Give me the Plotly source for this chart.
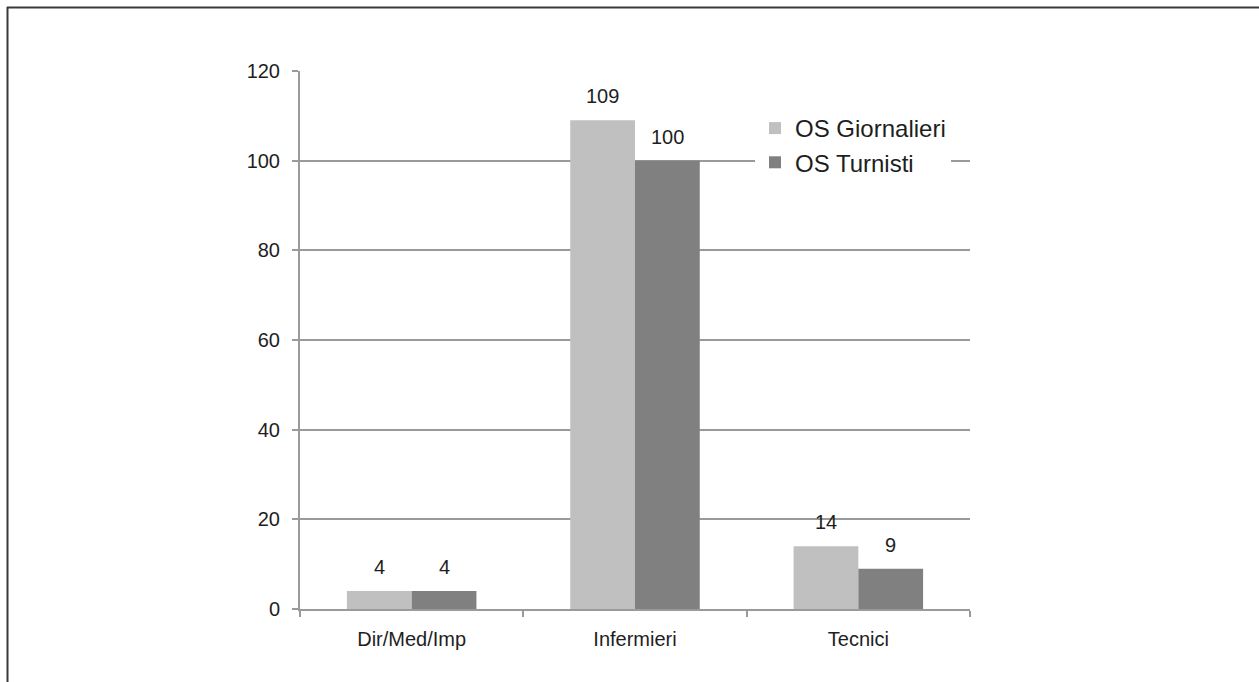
import plotly.graph_objects as go

categories = ["Dir/Med/Imp", "Infermieri", "Tecnici"]
giornalieri = [4, 109, 14]
turnisti = [4, 100, 9]
series_names = ["OS Giornalieri", "OS Turnisti"]
y_ticks = [0, 20, 40, 60, 80, 100, 120]

W, H = 1259, 682
ML, MR, MT, MB = 300, 289, 71, 73
FONT = "Liberation Sans, Arial, sans-serif"
TXT = "#1e1e1e"
GRID = "#9a9a9a"

fig = go.Figure()
fig.add_trace(go.Bar(x=categories, y=giornalieri, name=series_names[0],
                     marker=dict(color="#c0c0c0", line=dict(width=0))))
fig.add_trace(go.Bar(x=categories, y=turnisti, name=series_names[1],
                     marker=dict(color="#808080", line=dict(width=0))))

# value labels above each bar
pw = W - ML - MR
cat_w = pw / len(categories)
bar_w = cat_w * (1 - 0.42) / 2
for vals, sign in ((giornalieri, -1), (turnisti, 1)):
    for c, v in zip(categories, vals):
        fig.add_annotation(x=c, y=v, xref="x", yref="y", text=str(v),
                           showarrow=False, xshift=sign * bar_w / 2, yshift=24,
                           font=dict(family=FONT, size=20, color=TXT))

# frame lines along the top and left edges
def px_x(p):
    return (p - ML) / pw

ph = H - MT - MB
def px_y(p):
    return 1 - (p - MT) / ph

fig.add_shape(type="line", xref="paper", yref="paper",
              x0=px_x(7), x1=px_x(W + 5), y0=px_y(7.5), y1=px_y(7.5),
              line=dict(color="#3a3a3a", width=2))
fig.add_shape(type="line", xref="paper", yref="paper",
              x0=px_x(7.5), x1=px_x(7.5), y0=px_y(7), y1=px_y(H + 5),
              line=dict(color="#3a3a3a", width=2))

fig.update_layout(
    width=W, height=H,
    margin=dict(l=ML, r=MR, t=MT, b=MB),
    paper_bgcolor="white", plot_bgcolor="white",
    barmode="group", bargap=0.42, bargroupgap=0,
    font=dict(family=FONT, size=20, color=TXT),
    showlegend=True,
    legend=dict(x=px_x(755), y=px_y(106), xanchor="left", yanchor="top",
                bgcolor="white", font=dict(family=FONT, size=24, color=TXT),
                itemwidth=30, tracegroupgap=0),
    xaxis=dict(type="category", showgrid=False, showline=True,
               linecolor=GRID, linewidth=2, ticks="outside",
               tickson="boundaries", ticklen=6, tickcolor=GRID, tickwidth=2,
               ticklabelstandoff=11,
               tickfont=dict(family=FONT, size=20, color=TXT)),
    yaxis=dict(range=[0, 120], tickvals=y_ticks, showgrid=True,
               gridcolor=GRID, gridwidth=1.5, showline=True, linecolor=GRID,
               linewidth=2, ticks="outside", ticklen=6, tickcolor=GRID,
               tickwidth=2, zeroline=False, ticklabelstandoff=8,
               tickfont=dict(family=FONT, size=20, color=TXT)),
)

fig.write_html("out.html")
